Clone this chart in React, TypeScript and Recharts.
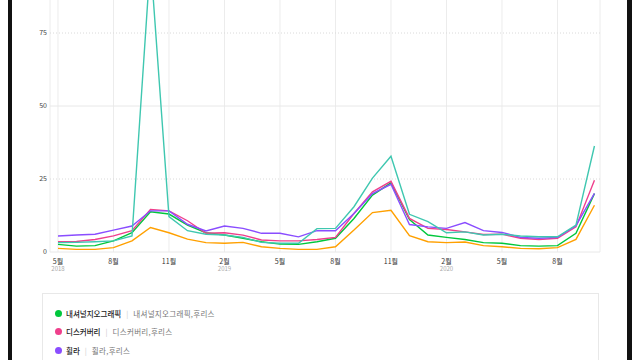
import React from 'react'
import { LineChart, Line, XAxis, YAxis, CartesianGrid, ReferenceLine } from 'recharts'

// months from 2018-05 to 2020-10, index based
const monthIdx = Array.from({ length: 30 }, (_, i) => i)

const natgeo = [2.6, 2.0, 2.2, 3.8, 6.6, 13.8, 13.0, 9.2, 6.6, 5.8, 4.7, 3.5, 2.7, 2.6, 3.5, 4.7, 11.5, 19.5, 23.7, 11.1, 5.8, 5.0, 4.3, 3.2, 3.0, 2.2, 2.0, 2.2, 6.4, 20.0]
const discovery = [3.5, 3.6, 4.3, 5.5, 7.3, 14.6, 14.1, 10.7, 6.4, 6.6, 5.8, 4.1, 3.8, 3.8, 4.3, 5.0, 13.2, 20.6, 24.2, 11.5, 8.1, 7.7, 6.9, 6.0, 6.1, 4.7, 4.3, 4.7, 8.6, 24.6]
const fila = [5.5, 5.8, 6.1, 7.5, 8.9, 14.1, 14.1, 9.5, 7.2, 8.9, 8.1, 6.4, 6.4, 5.2, 7.3, 7.3, 13.2, 20.0, 23.2, 9.4, 8.6, 8.1, 10.1, 7.3, 6.7, 5.0, 4.7, 5.0, 9.0, 20.1]
const teal = [3.2, 3.3, 3.5, 3.8, 5.5, 100, 12.1, 7.3, 6.1, 5.8, 5.0, 3.3, 3.0, 3.0, 8.0, 8.1, 15.5, 25.3, 32.8, 12.9, 10.4, 6.6, 6.9, 5.8, 6.1, 5.5, 5.2, 5.2, 9.2, 36.3]
const orange = [1.25, 0.9, 0.9, 1.5, 3.8, 8.4, 6.6, 4.4, 3.2, 3.0, 3.3, 1.8, 1.25, 0.9, 0.9, 1.8, 7.5, 13.5, 14.3, 5.6, 3.5, 3.2, 3.4, 2.2, 1.8, 1.25, 1.1, 1.5, 4.3, 16.0]

const xTicks = [0, 3, 6, 9, 12, 15, 18, 21, 24, 27]
const tickMonths = ['5월', '8월', '11월', '2월', '5월', '8월', '11월', '2월', '5월', '8월']
const tickYears = ['2018', '', '', '2019', '', '', '', '2020', '', '']
const yTicks = [0, 25, 50, 75]
const gridLevels = [0, 25, 50, 75, 100]

const series = [
  { key: 'natgeo', color: '#00c73c', values: natgeo },
  { key: 'discovery', color: '#ef3f8c', values: discovery },
  { key: 'fila', color: '#8a4dff', values: fila },
  { key: 'teal', color: '#3fc7b0', values: teal },
  { key: 'orange', color: '#ffa000', values: orange }
]

const legendItems = [
  { name: '내셔널지오그래픽', keywords: '내셔널지오그래픽,후리스', color: '#00c73c' },
  { name: '디스커버리', keywords: '디스커버리,후리스', color: '#ef3f8c' },
  { name: '휠라', keywords: '휠라,후리스', color: '#8a4dff' }
]

const data = monthIdx.map(i => {
  const row: any = { i }
  series.forEach(s => { row[s.key] = s.values[i] })
  return row
})

const FONT = '"Noto Sans CJK KR", "Noto Sans", sans-serif'

const MonthTick = ({ x, y, payload }: any) => {
  const k = xTicks.indexOf(payload.value)
  return (
    <g>
      <text x={x} y={y + 9.5} textAnchor="middle" fontSize={7} fill="#333" fontFamily={FONT}>
        {tickMonths[k]}
      </text>
      {tickYears[k] && (
        <text x={x} y={y + 17} textAnchor="middle" fontSize={6} fill="#aaa" fontFamily={FONT}>
          {tickYears[k]}
        </text>
      )}
    </g>
  )
}

export default function App() {
  return (
    <div style={{ position: 'fixed', left: 0, top: 0, width: 640, height: 360, overflow: 'hidden', background: '#fff', fontFamily: FONT }}>
      <div style={{ position: 'absolute', left: 0, top: -50 }}>
        <LineChart width={640} height={332} data={data} margin={{ top: 10, right: 40, bottom: 0, left: 0 }}>
          <CartesianGrid vertical horizontal={false} stroke="#ececec" />
          {gridLevels.map((v, k) => (
            <ReferenceLine
              key={v}
              y={v}
              stroke={k % 2 === 0 ? '#e8e8e8' : '#dadada'}
              strokeDasharray={k % 2 === 0 ? undefined : '1 2'}
            />
          ))}
          <XAxis
            dataKey="i"
            type="number"
            domain={[-0.432, 29.3]}
            ticks={xTicks}
            allowDataOverflow
            height={30}
            axisLine={false}
            tickLine={false}
            tickSize={0}
            tick={<MonthTick />}
            interval={0}
          />
          <YAxis
            domain={[0, 100]}
            ticks={yTicks}
            width={50}
            axisLine={false}
            tickLine={false}
            tickSize={0}
            tickMargin={3}
            tick={{ fontSize: 7, fill: '#444', fontFamily: FONT }}
          />
          {series.map(s => (
            <Line
              key={s.key}
              dataKey={s.key}
              type="linear"
              stroke={s.color}
              strokeWidth={1.4}
              dot={false}
              isAnimationActive={false}
            />
          ))}
        </LineChart>
      </div>

      <div style={{ position: 'absolute', left: 42, top: 293, width: 557, height: 100, border: '1px solid #e8e8e8', boxSizing: 'border-box', paddingTop: 10 }}>
        {legendItems.map(item => (
          <div key={item.name} style={{ display: 'flex', alignItems: 'center', height: 18.6, paddingLeft: 12, fontSize: 7.5, whiteSpace: 'nowrap' }}>
            <span style={{ width: 7, height: 7, borderRadius: '50%', background: item.color, display: 'inline-block', marginRight: 4 }} />
            <span style={{ color: '#222', fontWeight: 500 }}>{item.name}</span>
            <span style={{ color: '#ccc', margin: '0 5px' }}>|</span>
            <span style={{ color: '#777', letterSpacing: 0.3 }}>{item.keywords}</span>
          </div>
        ))}
      </div>

      <div style={{ position: 'absolute', left: 8, top: 0, width: 4, height: 360, background: '#111' }} />
      <div style={{ position: 'absolute', left: 627, top: 0, width: 5, height: 360, background: '#111' }} />
    </div>
  )
}
